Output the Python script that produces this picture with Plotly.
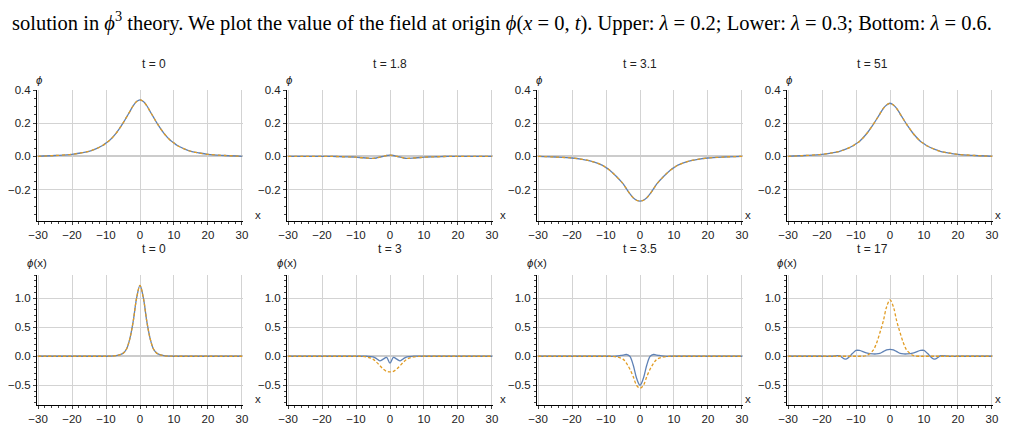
import plotly.graph_objects as go

x = [-30,-25,-20,-17,-15,-13,-11,-10,-9,-7,-5,-4,-3,-2,-1,0,1,2,3,4,5,7,9,10,11,13,15,17,20,25,30]

top_t0 = [0,0.005,0.012,0.022,0.03,0.045,0.065,0.08,0.095,0.14,0.2,0.235,0.27,0.305,0.33,0.34,0.33,0.305,0.27,0.235,0.2,0.14,0.095,0.08,0.065,0.045,0.03,0.022,0.012,0.005,0]
top_t18 = [0,0,0,0,-0.002,-0.003,-0.004,-0.005,-0.007,-0.01,-0.012,-0.01,-0.005,0.0,0.005,0.007,0.005,0.0,-0.005,-0.01,-0.012,-0.01,-0.007,-0.005,-0.004,-0.003,-0.002,0,0,0,0]
top_t31 = [0,-0.004,-0.01,-0.018,-0.026,-0.038,-0.055,-0.068,-0.082,-0.12,-0.165,-0.195,-0.225,-0.25,-0.265,-0.27,-0.265,-0.25,-0.225,-0.195,-0.165,-0.12,-0.082,-0.068,-0.055,-0.038,-0.026,-0.018,-0.01,-0.004,0]
top_t51 = [0,0.005,0.012,0.021,0.029,0.043,0.062,0.076,0.09,0.133,0.19,0.222,0.255,0.288,0.31,0.32,0.31,0.288,0.255,0.222,0.19,0.133,0.09,0.076,0.062,0.043,0.029,0.021,0.012,0.005,0]

bot_t0 = [0,0,0,0,0,0,0,0,0.002,0.01,0.05,0.12,0.3,0.6,1.0,1.22,1.0,0.6,0.3,0.12,0.05,0.01,0.002,0,0,0,0,0,0,0,0]
bot_t3_a = [0,0,0,0,0,0,0,0,0,0,-0.01,-0.04,-0.08,-0.05,-0.02,-0.12,-0.02,-0.05,-0.08,-0.04,-0.01,0,0,0,0,0,0,0,0,0,0]
bot_t3_b = [0,0,0,0,0,0,0,0,0,-0.01,-0.05,-0.1,-0.16,-0.22,-0.26,-0.27,-0.26,-0.22,-0.16,-0.1,-0.05,-0.01,0,0,0,0,0,0,0,0,0]
bot_t35_a = [0,0,0,0,0,0,0,0,0,0,0.02,0.03,0.0,-0.15,-0.38,-0.5,-0.38,-0.15,0.0,0.03,0.02,0,0,0,0,0,0,0,0,0,0]
bot_t35_b = [0,0,0,0,0,0,0,0,0,-0.01,-0.05,-0.12,-0.22,-0.35,-0.5,-0.55,-0.5,-0.35,-0.22,-0.12,-0.05,-0.01,0,0,0,0,0,0,0,0,0]
bot_t17_a = [0,0,0,0,0.01,-0.05,0.05,0.1,0.1,0.06,0.04,0.04,0.05,0.08,0.11,0.12,0.11,0.08,0.05,0.04,0.04,0.06,0.1,0.1,0.05,-0.05,0.01,0,0,0,0]
bot_t17_b = [0,0,0,0,0,0,0,0,0,0.01,0.1,0.22,0.4,0.6,0.85,0.97,0.85,0.6,0.4,0.22,0.1,0.01,0,0,0,0,0,0,0,0,0]

titles_top = ["t = 0", "t = 1.8", "t = 3.1", "t = 51"]
titles_bot = ["t = 0", "t = 3", "t = 3.5", "t = 17"]
caption = "solution in <i>ϕ</i><sup>3</sup> theory. We plot the value of the field at origin <i>ϕ</i>(<i>x</i> = 0, <i>t</i>). Upper: <i>λ</i> = 0.2; Lower: <i>λ</i> = 0.3; Bottom: <i>λ</i> = 0.6."

top_a = [top_t0, top_t18, top_t31, top_t51]
bot_a = [bot_t0, bot_t3_a, bot_t35_a, bot_t17_a]
bot_b = [bot_t0, bot_t3_b, bot_t35_b, bot_t17_b]

BLUE = "#5E81B5"; ORANGE = "#E19C24"
W, H = 1019, 424
OFF = 8
cols = [(37 - OFF, 243 - OFF), (287 - OFF, 493 - OFF), (537 - OFF, 743 - OFF), (787 - OFF, 993 - OFF)]
rows = [(90 - OFF, 221 - OFF), (275 - OFF, 405 - OFF)]
FONT = dict(size=11.5, family="Liberation Sans", color="#222")

fig = go.Figure()
ann = []
for r in range(2):
    for c in range(4):
        k = r * 4 + c + 1
        xa = "x" if k == 1 else f"x{k}"
        ya = "y" if k == 1 else f"y{k}"
        ya_key = "yaxis" if k == 1 else f"yaxis{k}"
        xa_key = "xaxis" if k == 1 else f"xaxis{k}"
        if r == 0:
            ya_vals, yb_vals = top_a[c], top_a[c]
            yr = [-0.39, 0.4]; tv = [-0.2, 0.0, 0.2, 0.4]; tt = ["-0.2", "0.0", "0.2", "0.4"]; md = 0.05
            ylab = "<i>ϕ</i>"; title = titles_top[c]
        else:
            ya_vals, yb_vals = bot_a[c], bot_b[c]
            yr = [-0.84, 1.4]; tv = [-0.5, 0.0, 0.5, 1.0]; tt = ["-0.5", "0.0", "0.5", "1.0"]; md = 0.1
            ylab = "<i>ϕ</i>(x)"; title = titles_bot[c]
        fig.add_trace(go.Scatter(x=x, y=ya_vals, mode="lines", line=dict(color=BLUE, width=1.3, shape="spline"), xaxis=xa, yaxis=ya, showlegend=False))
        fig.add_trace(go.Scatter(x=x, y=yb_vals, mode="lines", line=dict(color=ORANGE, width=1.3, dash="dot" if r == 0 else "3px,2px", shape="spline"), xaxis=xa, yaxis=ya, showlegend=False))
        x0, x1 = cols[c]; y0, y1 = rows[r]
        fig.layout[xa_key] = dict(domain=[x0 / W, x1 / W], range=[-30.3, 30.3], anchor=ya, automargin=False,
                                  tickvals=[-30, -20, -10, 0, 10, 20, 30], ticktext=["−30", "−20", "−10", "0", "10", "20", "30"],
                                  showgrid=True, gridcolor="#d3d3d3", zeroline=False, showline=True, linecolor="black",
                                  ticks="outside", ticklen=3, tickfont=FONT,
                                  minor=dict(dtick=2, ticks="outside", ticklen=2, showgrid=False))
        fig.layout[ya_key] = dict(domain=[1 - y1 / H, 1 - y0 / H], range=yr, anchor=xa, automargin=False,
                                  tickvals=tv, ticktext=[t.replace("-", "−") for t in tt],
                                  showgrid=True, gridcolor="#d3d3d3", zeroline=True, zerolinecolor="#cccccc", zerolinewidth=2,
                                  showline=True, linecolor="black", ticks="outside", ticklen=3, tickfont=FONT,
                                  minor=dict(dtick=md, ticks="outside", ticklen=2, showgrid=False))
        xm = (x0 + x1) / 2
        ann.append(dict(text=title, x=xm / W, y=1 - (y0 - 26) / H, xref="paper", yref="paper", showarrow=False, font=dict(size=12, family="Liberation Sans", color="#222"), yanchor="middle"))
        ann.append(dict(text=ylab, x=(x0 + (2 if r == 0 else 0)) / W, y=1 - (y0 - (10 if r == 0 else 12)) / H, xref="paper", yref="paper", showarrow=False, font=FONT, xanchor="center", yanchor="middle"))
        ann.append(dict(text="x", x=(x1 + 10) / W, y=1 - (y1 - 6) / H, xref="paper", yref="paper", showarrow=False, font=FONT, yanchor="middle"))

ann.append(dict(text=caption, x=(10 - OFF) / W, y=1 - 13 / H, xref="paper", yref="paper", showarrow=False, xanchor="left", yanchor="middle", font=dict(size=20.5, family="Liberation Serif", color="black")))
fig.update_layout(width=W, height=H, margin=dict(l=0, r=0, t=0, b=0), plot_bgcolor="white", paper_bgcolor="white", annotations=ann)
fig.write_html("out.html")
